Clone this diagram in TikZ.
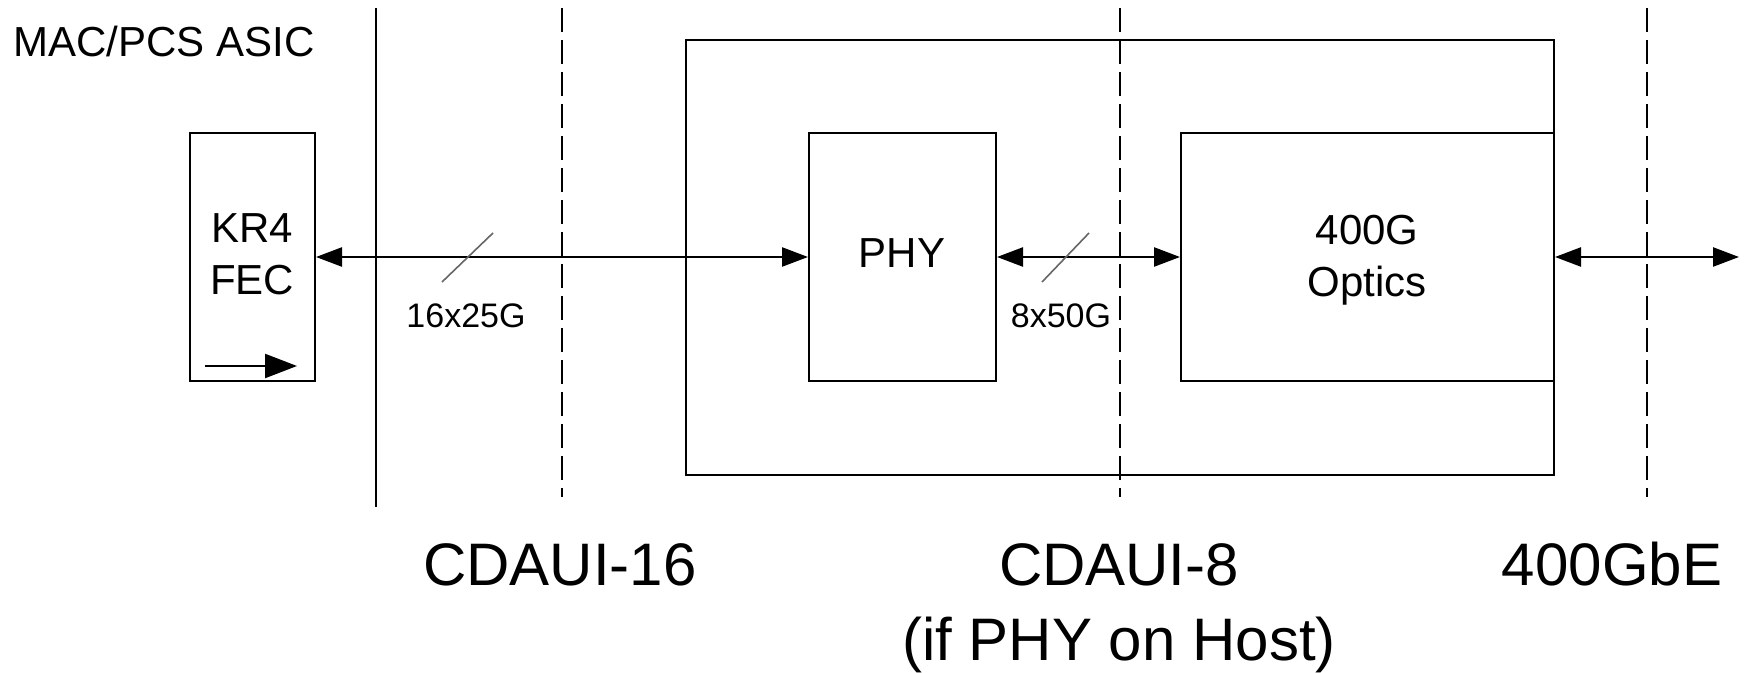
\documentclass[tikz,border=0pt]{standalone}
\usepackage{fontspec}
\setmainfont{Liberation Sans}
\usetikzlibrary{arrows.meta,fit}
\begin{document}
\begin{tikzpicture}[x=0.5pt,y=-0.5pt,
  box/.style={draw, line width=1pt, inner sep=0pt},
  txt/.style={inner sep=0pt, align=center},
  big/.style={font=\fontsize{21pt}{26pt}\selectfont},
  small/.style={font=\fontsize{17pt}{20pt}\selectfont},
  huge/.style={font=\fontsize{30pt}{37.5pt}\selectfont},
  link/.style={line width=1.2pt, {Triangle[length=13pt,width=9.5pt]}-{Triangle[length=13pt,width=9.5pt]}},
  bound/.style={line width=1pt},
  iface/.style={line width=1pt, dash pattern=on 12pt off 4pt},
  slash/.style={line width=0.8pt, black!60}]
\useasboundingbox (0,0) rectangle (1749,673);
% boxes
\node[box, fit={(686,40) (1554,475)}] (outer) {};
\node[box, fit={(190,133) (315,381)}] (kr4) {};
\node[box, fit={(809,133) (996,381)}] (phy) {};
\node[box, fit={(1181,133) (1554,381)}] (optics) {};
% texts
\node[txt, big, anchor=base west] (asic) at (13,57) {MAC/PCS ASIC};
\node[txt, big, anchor=north] (kr4t) at (252,213) {KR4\\FEC};
\node[txt, big, anchor=base] (phyt) at (902,268) {PHY};
\node[txt, big, anchor=north] (optt) at (1367,215) {400G\\Optics};
\node[txt, small, anchor=base] (l16) at (466,328) {16x25G};
\node[txt, small, anchor=base] (l8) at (1061,328) {8x50G};
\node[txt, huge, anchor=base] (c16) at (560,585) {CDAUI-16};
\node[txt, huge, anchor=north] (c8) at (1119,543) {CDAUI-8\\(if PHY on Host)};
\node[txt, huge, anchor=base] (gbe) at (1612,585) {400GbE};
% boundary lines
\coordinate (v1t) at (376,8);  \coordinate (v1b) at (376,507);
\coordinate (v2t) at (562,8);  \coordinate (v2b) at (562,497);
\coordinate (v3t) at (1120,8); \coordinate (v3b) at (1120,497);
\coordinate (v4t) at (1647,8); \coordinate (v4b) at (1647,497);
\draw[bound] (v1t) -- (v1b);
\draw[iface] (v2t) -- (v2b);
\draw[iface] (v3t) -- (v3b);
\draw[iface] (v4t) -- (v4b);
% connectors
\coordinate (lineend) at (1739,257);
\draw[link] (kr4.east) -- (phy.west);
\draw[link] (phy.east) -- (optics.west);
\draw[link] (optics.east) -- (lineend);
% arrow inside KR4 FEC
\coordinate (fs) at (205,366); \coordinate (fe) at (297,366);
\draw[line width=1.2pt, -{Triangle[length=16pt,width=12pt]}] (fs) -- (fe);
% lane slashes
\coordinate (s1a) at (442,282); \coordinate (s1b) at (493,233);
\coordinate (s2a) at (1042,282); \coordinate (s2b) at (1089,233);
\draw[slash] (s1a) -- (s1b);
\draw[slash] (s2a) -- (s2b);
\end{tikzpicture}
\end{document}
